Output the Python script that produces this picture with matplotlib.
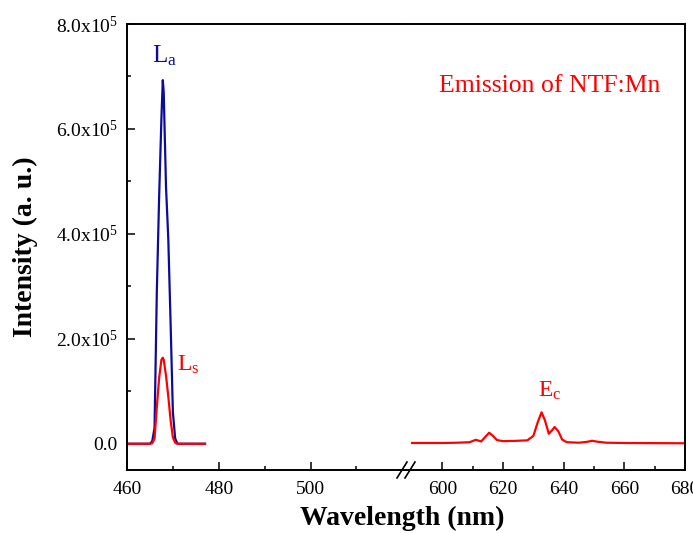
import matplotlib
matplotlib.use('Agg')
import matplotlib.pyplot as plt
from matplotlib.lines import Line2D
from matplotlib.ticker import MultipleLocator, FixedLocator, FixedFormatter

plt.rcParams['font.family'] = ['Liberation Serif', 'DejaVu Serif']
plt.rcParams['mathtext.default'] = 'regular'

# laser lines (left segment)
wl_left = [460, 462, 464, 465, 465.5, 466, 466.5, 467, 467.5, 467.8, 468, 468.5,
           469, 469.5, 470, 470.5, 471, 472, 474, 477]
la_int = [0, 0, 0, 0, 5e3, 3.0e4, 2.9e5, 4.7e5, 6.2e5, 6.93e5, 6.7e5, 4.9e5,
          3.9e5, 2.3e5, 6.0e4, 1.0e4, 0, 0, 0, 0]
ls_int = [0, 0, 0, 0, 1e3, 1.0e4, 7.0e4, 1.25e5, 1.6e5, 1.64e5, 1.6e5, 1.3e5,
          9.0e4, 4.5e4, 1.2e4, 2e3, 0, 0, 0, 0]

# Mn emission (right segment)
wl_right = [590, 600, 605, 609, 611, 612.8, 614, 615.4, 616.5, 618, 620, 624, 628,
            630, 631.5, 632.7, 633.8, 635.1, 636.2, 637.0, 638.2, 639.5, 641, 645,
            647.5, 649.4, 651, 654, 660, 670, 680]
ec_int = [1.5e3, 1.5e3, 2e3, 3e3, 7.5e3, 4.5e3, 1.2e4, 2.1e4, 1.6e4, 7e3, 5e3, 5.5e3,
          6.5e3, 1.5e4, 4.2e4, 6.0e4, 4.5e4, 1.9e4, 2.6e4, 3.2e4, 2.4e4, 8e3, 3e3,
          2e3, 3.5e3, 5.7e3, 4e3, 2e3, 1.5e3, 1.2e3, 1e3]

x_major_left = [460, 480, 500]
x_minor_left = [470, 490, 510]
x_major_right = [600, 620, 640, 660, 680]
x_minor_right = [610, 630, 650, 670]
y_ticks = [0, 2e5, 4e5, 6e5, 8e5]
y_tick_labels = ['0.0', '2.0x10$^5$', '4.0x10$^5$', '6.0x10$^5$', '8.0x10$^5$']

blue = '#0c0c9c'
red = '#ff0000'

W, H = 693, 533


def px_box(x0, y0, x1, y1):
    return [x0 / W, 1 - y1 / H, (x1 - x0) / W, (y1 - y0) / H]


fig = plt.figure(figsize=(6.93, 5.33), dpi=100)
ax1 = fig.add_axes(px_box(127, 24, 406, 470))
ax2 = fig.add_axes(px_box(406, 24, 685, 470))

ax1.plot(wl_left, la_int, color=blue, lw=1.6)
ax1.plot(wl_left, ls_int, color=red, lw=1.6)
ax2.plot(wl_right, ec_int, color=red, lw=1.6)

ax1.set_xlim(460, 520.8)
ax2.set_xlim(588, 680)
for ax in (ax1, ax2):
    ax.set_ylim(-5e4, 8e5)
    for s in ax.spines.values():
        s.set_linewidth(1.4)
    ax.tick_params(axis='both', which='both', direction='in', top=False, right=False,
                   width=1.1, labelsize=14)
    ax.tick_params(which='major', length=6)
    ax.tick_params(which='minor', length=3)
    ax.tick_params(axis='x', pad=8)

ax1.spines['right'].set_visible(False)
ax2.spines['left'].set_visible(False)

ax1.xaxis.set_major_locator(FixedLocator(x_major_left))
ax1.xaxis.set_minor_locator(FixedLocator(x_minor_left))
ax2.xaxis.set_major_locator(FixedLocator(x_major_right))
ax2.xaxis.set_minor_locator(FixedLocator(x_minor_right))

ax1.yaxis.set_major_locator(FixedLocator(y_ticks))
ax1.yaxis.set_major_formatter(FixedFormatter(y_tick_labels))
ax1.yaxis.set_minor_locator(MultipleLocator(1e5))
ax1.tick_params(axis='y', pad=6.5)
ax2.tick_params(axis='y', which='both', left=False, labelleft=False)

fig.text(25 / W, 1 - 247 / H, 'Intensity (a. u.)', rotation=90, ha='center', va='center',
         fontsize=20, fontweight='bold')
fig.text(402 / W, 1 - 525 / H, 'Wavelength (nm)', ha='center', va='baseline',
         fontsize=20, fontweight='bold')

# axis break marks
for x0 in (397, 405):
    fig.add_artist(Line2D([x0 / W, (x0 + 10) / W], [1 - 478 / H, 1 - 462 / H],
                          color='black', lw=1.2))

ax1.text(465.4, 7.26e5, 'L$_a$', color=blue, fontsize=18, va='baseline')
ax1.text(470.96, 1.40e5, 'L$_s$', color=red, fontsize=17, va='baseline')
ax2.text(631.4, 9.0e4, 'E$_c$', color=red, fontsize=17, va='baseline')
ax2.text(599.0, 6.70e5, 'Emission of NTF:Mn', color=red, fontsize=18.5, va='baseline')

fig.savefig('out.png', dpi=100)
